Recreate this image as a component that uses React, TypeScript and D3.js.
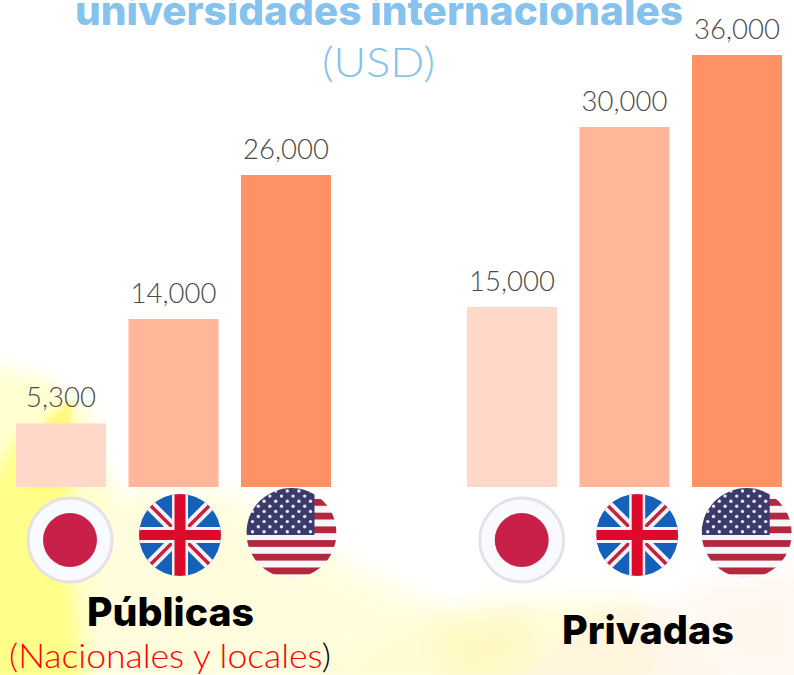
import React from "react";
import * as d3 from "d3";

const countries = ["Japón", "Reino Unido", "EE. UU."];
const publicValues = [5300, 14000, 26000];
const privateValues = [15000, 30000, 36000];
const barColors = ["#FFD8CA", "#FFB699", "#FF9264"];
const titleLine = "universidades internacionales";
const unitLine = "(USD)";

const W = 794, H = 675;
const y = d3.scaleLinear().domain([0, 36000]).range([487, 55]);
const xPublic = d3.scaleBand().domain(countries).range([16, 331]).paddingInner(0.2);
const xPrivate = d3.scaleBand().domain(countries).range([467, 782]).paddingInner(0.2);
const fmt = d3.format(",");

const bgLayers: { pts: string; fill: string; op: number; blur: string }[] = [
  { pts: "72,490 225,492 340,560 500,640 460,685 72,685", fill: "#FFFDD2", op: 0.75, blur: "b12" },
  { pts: "-20,362 45,378 90,410 110,490 90,685 -20,685", fill: "#FFFFC8", op: 0.8, blur: "b8" },
  { pts: "300,685 420,622 480,605 640,600 660,685", fill: "#FFFBD0", op: 0.85, blur: "b12" },
  { pts: "440,625 530,610 530,685 450,685", fill: "#FFF6B0", op: 0.45, blur: "b12" },
  { pts: "680,590 810,570 810,685 730,685", fill: "#FFF3E8", op: 0.7, blur: "b12" },
  { pts: "510,685 590,620 630,605 680,605 730,685", fill: "#FFF1E0", op: 0.6, blur: "b8" },
  { pts: "-20,500 20,432 70,490 72,580 85,685 -20,685", fill: "#FFFF78", op: 0.8, blur: "b8" },
  { pts: "46,418 72,400 74,490 26,490", fill: "#FFF65C", op: 0.7, blur: "b3" },
];

function Japan({ cx, cy }: { cx: number; cy: number }) {
  return (
    <g>
      <circle cx={cx} cy={cy} r={42} fill="#F9FAFD" stroke="#E4E2E4" strokeWidth={3} />
      <circle cx={cx} cy={cy} r={27} fill="#C9204A" />
    </g>
  );
}

function UK({ cx, cy, id }: { cx: number; cy: number; id: string }) {
  const r = 41;
  const diag = (sx: number, sy: number) => `M${cx},${cy}L${cx + sx * r},${cy + sy * r}`;
  const all = diag(1, 1) + diag(-1, -1) + diag(1, -1) + diag(-1, 1);
  return (
    <g>
      <clipPath id={id}><circle cx={cx} cy={cy} r={r} /></clipPath>
      <g clipPath={`url(#${id})`}>
        <rect x={cx - r} y={cy - r} width={2 * r} height={2 * r} fill="#1560B8" />
        <path d={all} stroke="#F4F4F6" strokeWidth={11} />
        <path d={all} stroke="#C8203F" strokeWidth={3.5} />
        <rect x={cx - 8} y={cy - r} width={16} height={2 * r} fill="#F4F4F6" />
        <rect x={cx - r} y={cy - 8} width={2 * r} height={16} fill="#F4F4F6" />
        <rect x={cx - 5.5} y={cy - r} width={11} height={2 * r} fill="#DE0A2B" />
        <rect x={cx - r} y={cy - 5} width={2 * r} height={10} fill="#DE0A2B" />
      </g>
    </g>
  );
}

function USA({ cx, cy, id }: { cx: number; cy: number; id: string }) {
  const r = 45;
  const stars: React.ReactElement[] = [];
  for (let row = 0; row < 9; row++) {
    const n = row % 2 === 0 ? 6 : 5;
    for (let c = 0; c < n; c++) {
      stars.push(
        <circle key={`${row}-${c}`} cx={cx - r + 6 + c * 11.6 + (row % 2 ? 5.8 : 0)} cy={cy - r + 3 + row * 5.1} r={1.7} fill="#E8E8F2" />
      );
    }
  }
  return (
    <g>
      <clipPath id={id}><circle cx={cx} cy={cy} r={r} /></clipPath>
      <g clipPath={`url(#${id})`}>
        <rect x={cx - r} y={cy - r} width={2 * r} height={2 * r} fill="#F6F6F8" />
        {d3.range(0, 6).map((i) => (
          <rect key={i} x={cx - r} y={cy - 34 + i * 13.7} width={2 * r} height={6.8} fill="#B2283F" />
        ))}
        <rect x={cx - r} y={cy - r} width={68} height={47} fill="#3A3A6C" />
        {stars}
      </g>
    </g>
  );
}

function Bars({ values, x, flagDx, prefix }: { values: number[]; x: d3.ScaleBand<string>; flagDx: number[]; prefix: string }) {
  return (
    <g>
      {countries.map((c, i) => {
        const bx = x(c) as number;
        const mid = bx + x.bandwidth() / 2;
        const fx = mid + flagDx[i];
        return (
          <g key={c}>
            {i === 0 && <Japan cx={fx} cy={540} />}
            {i === 1 && <UK cx={fx} cy={535} id={`${prefix}uk`} />}
            {i === 2 && <USA cx={fx} cy={533} id={`${prefix}us`} />}
            <rect x={bx} y={y(values[i])} width={x.bandwidth()} height={y(0) - y(values[i])} fill={barColors[i]} />
            <text x={mid} y={y(values[i]) - 16} textAnchor="middle" fontFamily="Lato" fontWeight={300} fontSize={27.5} fill="#4A4A4A">
              {fmt(values[i])}
            </text>
          </g>
        );
      })}
    </g>
  );
}

export default function App() {
  return (
    <svg width={W} height={H} viewBox={`0 0 ${W} ${H}`} style={{ position: "fixed", left: 0, top: 0, background: "#fff" }}>
      <defs>
        <filter id="b12" x="-30%" y="-30%" width="160%" height="160%"><feGaussianBlur stdDeviation={12} /></filter>
        <filter id="b8" x="-30%" y="-30%" width="160%" height="160%"><feGaussianBlur stdDeviation={8} /></filter>
        <filter id="b3" x="-30%" y="-30%" width="160%" height="160%"><feGaussianBlur stdDeviation={3} /></filter>
      </defs>
      {bgLayers.map((l, i) => (
        <polygon key={i} points={l.pts} fill={l.fill} opacity={l.op} filter={`url(#${l.blur})`} />
      ))}
      <text x={379} y={25} textAnchor="middle" fontFamily="Inter" fontWeight={800} fontSize={40} fill="#85C3EE" textLength={608} lengthAdjust="spacingAndGlyphs">
        {titleLine}
      </text>
      <text x={378.5} y={77} textAnchor="middle" fontFamily="Lato" fontWeight={300} fontSize={42} fill="#85C3EE" textLength={113} lengthAdjust="spacingAndGlyphs">
        {unitLine}
      </text>
      <Bars values={publicValues} x={xPublic} flagDx={[9, 6.5, 5.5]} prefix="a" />
      <Bars values={privateValues} x={xPrivate} flagDx={[9.7, 12.7, 9.7]} prefix="b" />
      <text x={170.5} y={626} textAnchor="middle" fontFamily="Inter" fontWeight={800} fontSize={39} fill="#000" textLength={167} lengthAdjust="spacingAndGlyphs">Públicas</text>
      <text x={648} y={644} textAnchor="middle" fontFamily="Inter" fontWeight={800} fontSize={39} fill="#000" textLength={172} lengthAdjust="spacingAndGlyphs">Privadas</text>
      <text x={170} y={668} textAnchor="middle" fontFamily="Lato" fontWeight={300} fontSize={33} textLength={322} lengthAdjust="spacingAndGlyphs" fill="#FF0000">
        (Nacionales y locales<tspan fill="#000">)</tspan>
      </text>
    </svg>
  );
}
